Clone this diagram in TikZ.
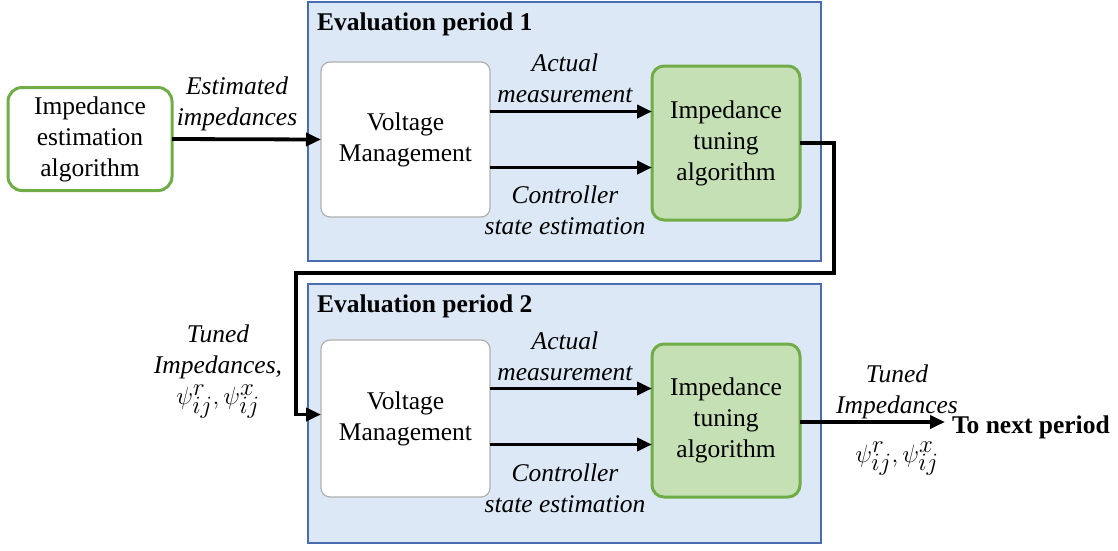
\documentclass[tikz,border=0pt]{standalone}
\usepackage{fontspec}
\setmainfont{Liberation Serif}
\usetikzlibrary{arrows.meta}
\definecolor{pbfill}{HTML}{DCE8F5}
\definecolor{pbdraw}{HTML}{4A6DB0}
\definecolor{gfill}{HTML}{C5E0B4}
\definecolor{gdraw}{HTML}{70AD47}
\definecolor{vmdraw}{HTML}{B0B0B0}
\newcommand{\psimath}{{\fontsize{34}{38}\selectfont$\psi^r_{ij},\psi^x_{ij}$}}
\begin{document}
\begin{tikzpicture}[x=1pt,y=-1pt,
  every node/.style={inner sep=0pt,outer sep=0pt,font=\fontsize{25.5}{31}\selectfont},
  period/.style={draw=pbdraw,fill=pbfill,line width=1.3pt},
  vmbox/.style={draw=vmdraw,fill=white,line width=1.2pt,rounded corners=9pt,align=center},
  tunebox/.style={draw=gdraw,fill=gfill,line width=3pt,rounded corners=12pt,align=center},
  estbox/.style={draw=gdraw,fill=white,line width=3pt,rounded corners=14pt,align=center},
  arr/.style={line width=3.8pt,-{Triangle[length=15pt,width=13pt]}},
  lbl/.style={align=center,font=\fontsize{25.5}{31}\selectfont\itshape},
  ttl/.style={anchor=west,font=\fontsize{25.5}{31}\selectfont\bfseries}
]
\useasboundingbox (0,0) rectangle (1118,550);
% period boxes
\node[period,minimum width=513pt,minimum height=259pt] (P1) at (564.5,131.5) {};
\node[period,minimum width=513pt,minimum height=259pt] (P2) at (564.5,413.5) {};
\node[ttl] (P1t) at (317,24) {Evaluation period 1};
\node[ttl] (P2t) at (317,306) {Evaluation period 2};
% estimation box
\node[estbox,minimum width=164pt,minimum height=103pt] (E) at (90,139) {Impedance\\estimation\\algorithm};
% period 1
\node[vmbox,minimum width=169pt,minimum height=155pt] (V1) at (405.5,139.5) {Voltage\\Management};
\node[tunebox,minimum width=148pt,minimum height=154pt] (T1) at (726,143) {Impedance\\tuning\\algorithm};
% period 2
\node[vmbox,minimum width=169pt,minimum height=157pt] (V2) at (405.5,418.5) {Voltage\\Management};
\node[tunebox,minimum width=148pt,minimum height=153pt] (T2) at (726,420.5) {Impedance\\tuning\\algorithm};
% labels
\node[lbl] (LE) at (237,104) {Estimated\\impedances};
\node[lbl] (LA1) at (565,78) {Actual\\measurement};
\node[lbl] (LC1) at (565,210) {Controller\\state estimation};
\node[lbl] (LA2) at (565,356) {Actual\\measurement};
\node[lbl] (LC2) at (565,488) {Controller\\state estimation};
\node[lbl] (LT) at (218,372) {Tuned\\Impedances,\\\psimath};
\node[lbl] (LR) at (897,392) {Tuned\\Impedances};
\node[lbl] (LRm) at (897,459) {\psimath};
\node[anchor=west,font=\fontsize{25.5}{31}\selectfont\bfseries] (NX) at (952,427) {To next period};
% connectors
\draw[arr] (E.east) -- (V1.west);
\draw[arr] ([yshift=28pt]V1.east) -- ([yshift=28pt]V1.east -| T1.west);
\draw[arr] ([yshift=-28pt]V1.east) -- ([yshift=-28pt]V1.east -| T1.west);
\draw[arr] ([yshift=30pt]V2.east) -- ([yshift=30pt]V2.east -| T2.west);
\draw[arr] ([yshift=-26pt]V2.east) -- ([yshift=-26pt]V2.east -| T2.west);
\coordinate (c1) at (834,273);
\coordinate (c2) at (296,273);
\draw[arr] (T1.east) -| (c1) -- (c2) |- ([yshift=4pt]V2.west);
\coordinate (out) at (945,422);
\draw[arr] (T2.east |- out) -- (out);
\end{tikzpicture}
\end{document}
